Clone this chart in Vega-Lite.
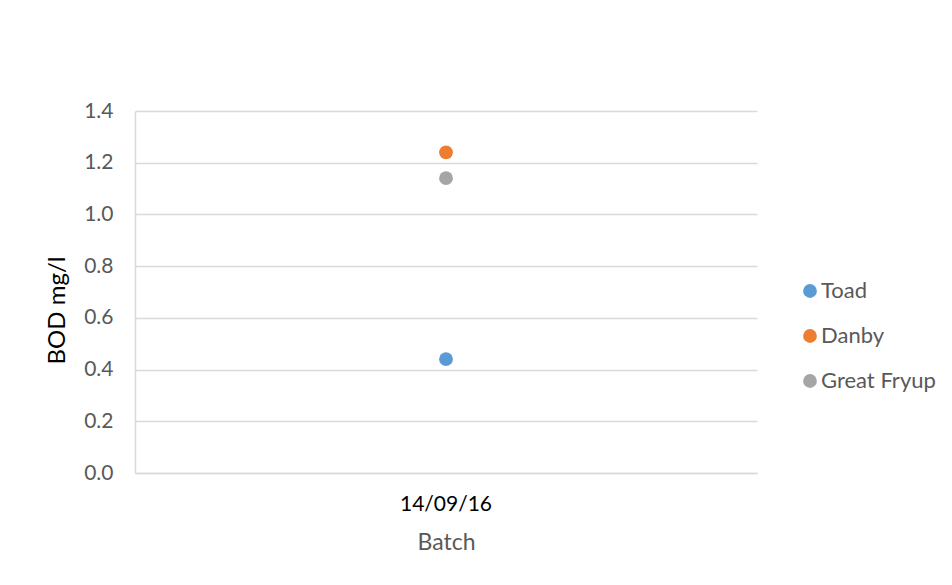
{
  "$schema": "https://vega.github.io/schema/vega-lite/v6.json",
  "width": 622,
  "height": 362,
  "autosize": {"type": "none"},
  "padding": {"left": 135, "top": 111, "right": 195, "bottom": 112},
  "background": "white",
  "config": {
    "font": "Lato",
    "view": {"stroke": null},
    "axis": {"labelFont": "Lato", "titleFont": "Lato"}
  },
  "data": {
    "values": [
      {"batch": "14/09/16", "site": "Toad", "bod": 0.44},
      {"batch": "14/09/16", "site": "Danby", "bod": 1.24},
      {"batch": "14/09/16", "site": "Great Fryup", "bod": 1.14}
    ]
  },
  "mark": {"type": "circle", "size": 190, "opacity": 1},
  "encoding": {
    "x": {
      "field": "batch",
      "type": "nominal",
      "title": "Batch",
      "scale": {"type": "band", "paddingInner": 0, "paddingOuter": 0},
      "axis": {
        "labelAngle": 0,
        "labelColor": "#000000",
        "labelFontSize": 21,
        "labelPadding": 20,
        "ticks": false,
        "domainColor": "#d9d9d9",
        "domainWidth": 1.5,
        "grid": false,
        "titleColor": "#595959",
        "titleFontSize": 23,
        "titleFontWeight": "normal",
        "titlePadding": 17
      }
    },
    "y": {
      "field": "bod",
      "type": "quantitative",
      "title": "BOD mg/l",
      "scale": {"domain": [0, 1.4]},
      "axis": {
        "values": [0, 0.2, 0.4, 0.6, 0.8, 1.0, 1.2, 1.4],
        "format": ".1f",
        "labelColor": "#595959",
        "labelFontSize": 21,
        "labelPadding": 22,
        "ticks": false,
        "domainColor": "#d9d9d9",
        "domainWidth": 1.5,
        "gridColor": "#d9d9d9",
        "gridWidth": 1.3,
        "titleColor": "#000000",
        "titleFontSize": 24,
        "titleFontWeight": "normal",
        "titlePadding": 14,
        "titleY": 199
      }
    },
    "color": {
      "field": "site",
      "type": "nominal",
      "title": null,
      "scale": {
        "domain": ["Toad", "Danby", "Great Fryup"],
        "range": ["#5b9bd5", "#ed7d31", "#a5a5a5"]
      },
      "legend": {
        "orient": "none",
        "legendX": 664,
        "legendY": 169,
        "symbolType": "circle",
        "symbolSize": 190,
        "symbolOpacity": 1,
        "labelFontSize": 22,
        "labelColor": "#595959",
        "labelOffset": 0,
        "rowPadding": 23
      }
    }
  }
}
